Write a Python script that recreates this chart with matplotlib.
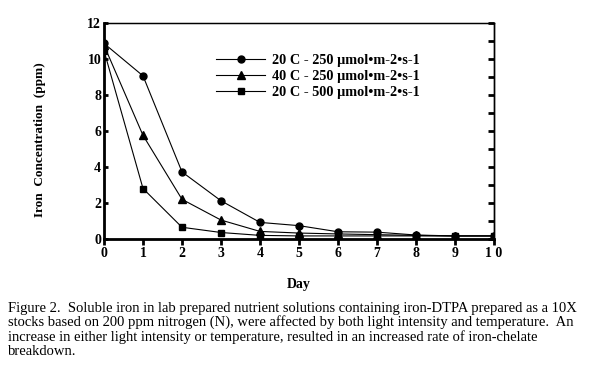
import matplotlib
matplotlib.use("Agg")
import matplotlib.pyplot as plt

days = [0, 1, 2, 3, 4, 5, 6, 7, 8, 9, 10]
c20_250 = [10.85, 9.05, 3.72, 2.12, 0.92, 0.74, 0.40, 0.38, 0.22, 0.17, 0.17]
c40_250 = [10.75, 5.75, 2.20, 1.05, 0.42, 0.33, 0.28, 0.24, 0.20, 0.17, 0.17]
c20_500 = [10.45, 2.80, 0.65, 0.36, 0.20, 0.17, 0.17, 0.17, 0.17, 0.17, 0.17]
labels = ["20 C - 250 \u00b5mol\u2022m-2\u2022s-1",
          "40 C - 250 \u00b5mol\u2022m-2\u2022s-1",
          "20 C - 500 \u00b5mol\u2022m-2\u2022s-1"]
yticks = [0, 2, 4, 6, 8, 10, 12]
xticklabels = ["0", "1", "2", "3", "4", "5", "6", "7", "8", "9", "1 0"]

caption = ("Figure 2.  Soluble iron in lab prepared nutrient solutions containing iron-DTPA prepared as a 10X\n"
           "stocks based on 200 ppm nitrogen (N), were affected by both light intensity and temperature.  An\n"
           "increase in either light intensity or temperature, resulted in an increased rate of iron-chelate\n"
           "breakdown.")

plt.rcParams['font.family'] = ['Liberation Serif', 'DejaVu Serif']

fig = plt.figure(figsize=(5.97, 3.67), dpi=100)
ax = fig.add_axes([0.1742, 0.3488, 0.6533, 0.5894])

ax.plot(days, c20_250, color='black', lw=0.8, marker='o', ms=5, label=labels[0])
ax.plot(days, c40_250, color='black', lw=0.8, marker='^', ms=5.5, label=labels[1])
ax.plot(days, c20_500, color='black', lw=0.8, marker='s', ms=5, label=labels[2])

ax.set_xlim(0, 10)
ax.set_ylim(0, 12)
ax.set_xticks(days)
ax.set_xticklabels(xticklabels, fontweight='bold', fontsize=10)
ax.set_yticks(yticks)
ax.set_yticklabels([str(v) for v in yticks], fontweight='bold', fontsize=10)
ax.tick_params(axis='both', direction='out', length=4, width=2, pad=2)
ax.tick_params(axis='y', direction='in', length=3)

ax.spines['left'].set_linewidth(2)
ax.spines['bottom'].set_linewidth(2)
ax.spines['top'].set_linewidth(1)
ax.spines['right'].set_linewidth(1)

# ticks on the right side
ax2 = ax.twinx()
ax2.set_ylim(0, 12)
ax2.set_yticks(list(range(0, 13)))
ax2.set_yticklabels([])
ax2.tick_params(axis='y', direction='in', length=4, width=2)
ax2.spines['right'].set_linewidth(1)

ax.set_xlabel("Day", fontweight='bold', fontsize=10, labelpad=13)
ax.set_ylabel("Iron  Concentration  (ppm)", fontweight='bold', fontsize=9.5)
ax.yaxis.set_label_coords(-0.148, 0.46)

ax.legend(loc='upper left', bbox_to_anchor=(0.27, 0.89), frameon=False,
          prop={'weight': 'bold', 'size': 10.3}, handlelength=3.4,
          labelspacing=0.22, handletextpad=0.5, borderpad=0)

fig.text(0.013, 0.178, caption, fontsize=10.5, va='top', ha='left', linespacing=1.08)

fig.savefig("out.png", dpi=100)
